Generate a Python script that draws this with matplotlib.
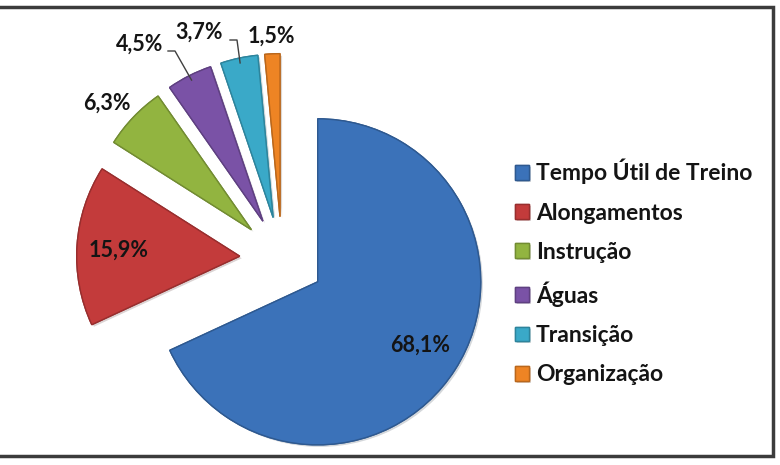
import numpy as np
import matplotlib
matplotlib.use("Agg")
import matplotlib.pyplot as plt
import matplotlib.colors as mcolors
import matplotlib.patheffects as pe
from matplotlib.patches import Rectangle

#------------------------------------
# Data
categories = ["Tempo Útil de Treino", "Alongamentos", "Instrução", "Águas", "Transição", "Organização"]
values = [68.1, 15.9, 6.3, 4.5, 3.7, 1.5]
colors = ["#3b72b9", "#c33b3b", "#92b440", "#7a52a6", "#3aa9c8", "#ee8424"]

# label centres in image pixels (x from left, y from top)
label_pos = [(420, 345), (119, 250), (107, 103), (140, 44), (199, 32), (271, 36)]
# leader lines (start of line next to the label), None = no line
leader_start = [None, None, None, (168, 51), (230, 40), None]

W, H = 780, 465
R = 163
plt.rcParams['font.family'] = ['Lato', 'DejaVu Sans']

fig = plt.figure(figsize=(W / 100, H / 100), dpi=100)
ax = fig.add_axes([0, 0, 1, 1])

edge = [tuple(np.array(mcolors.to_rgb(c)) * 0.78) for c in colors]
# explode is given in data units here (pixels)
wedges, _ = ax.pie(values, explode=[0.26 * R] * len(values), colors=colors,
                   startangle=90, counterclock=False, radius=R,
                   center=(282, H - 259),
                   wedgeprops=dict(linewidth=1.0))
for w, ec in zip(wedges, edge):
    w.set_edgecolor(ec)
    w.set_path_effects([pe.withSimplePatchShadow(offset=(1.5, -1.5), alpha=0.18), pe.Normal()])

# value labels
for i, (v, w) in enumerate(zip(values, wedges)):
    x, y = label_pos[i]
    ax.text(x, H - y, f"{v:.1f}%".replace(".", ","), ha="center", va="center",
            fontsize=15.5, fontweight="bold", color="#141414")
    if leader_start[i] is not None:
        mid = np.radians((w.theta1 + w.theta2) / 2)
        px = w.center[0] + w.r * 0.97 * np.cos(mid)
        py = w.center[1] + w.r * 0.97 * np.sin(mid)
        sx, sy = leader_start[i]
        ax.plot([sx, sx + 7, px], [H - sy, H - sy, py], color="#404040", lw=1.0)

# legend
leg = ax.legend(wedges, categories, loc="center left", bbox_to_anchor=(515, H - 272),
                bbox_transform=ax.transData, frameon=False,
                prop=dict(family=['Lato', 'DejaVu Sans'], weight='bold', size=16.5),
                handlelength=0.62, handleheight=0.62, handletextpad=0.3,
                labelspacing=0.8, borderpad=0, borderaxespad=0)
for t in leg.get_texts():
    t.set_color("#141414")

# chart border
ax.add_patch(Rectangle((-5, H - 456), 778, 449, fill=False, edgecolor="#3c3c3c", lw=2.5))

ax.set_xlim(0, W)
ax.set_ylim(0, H)
ax.set_aspect("equal")
ax.axis("off")

fig.savefig("out.png", dpi=100, facecolor="white")
